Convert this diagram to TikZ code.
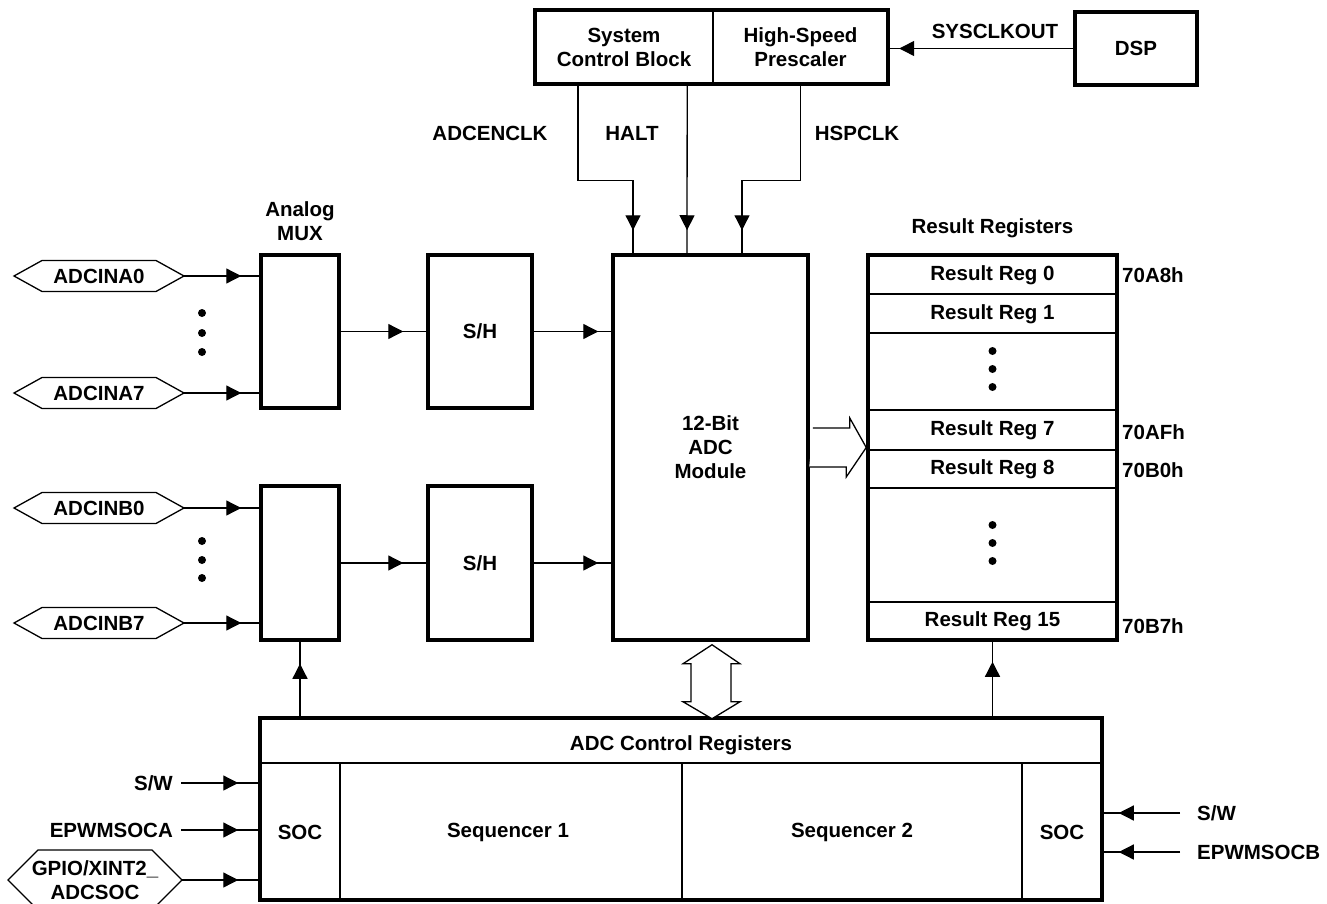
\documentclass[tikz,border=0pt]{standalone}
\usepackage{fontspec}
\setmainfont{Liberation Sans}
\usetikzlibrary{arrows.meta,decorations.markings}
\newcommand{\hexbox}[7]{% name, cx, cy, halfw, halfh, slant, text
  \node[align=center] (#1) at (#2,#3) {#7};
  \draw[ln] (#1.center) ++(-#4,0) -- ++(#6,-#5) -- ++(2*#4-2*#6,0) -- ++(#6,#5) -- ++(-#6,#5) -- ++(-2*#4+2*#6,0) -- cycle;
  \path (#1.center) ++(#4,0) coordinate (#1-r);
}
\begin{document}
\begin{tikzpicture}[x=1pt,y=-1pt,
  every node/.style={font=\fontsize{20.5}{24}\selectfont\bfseries, inner sep=0pt},
  blk/.style={draw, line width=3.5pt, rectangle, align=center},
  ln/.style={line width=1.3pt},
  sep/.style={line width=1.6pt},
  marr/.style={ln, postaction={decorate}, decoration={markings, mark=at position #1 with {\arrow{Triangle[length=15pt,width=15pt]}}}},
  hollow/.style={ln, fill=white, line join=miter}
]
\useasboundingbox (0,0) rectangle (1327,904);

% top blocks
\node[align=center, minimum width=178pt, minimum height=74pt] (scb) at (624,47) {System\\Control Block};
\node[align=center, minimum width=175pt, minimum height=74pt] (hsp) at (800.5,47) {High-Speed\\Prescaler};
\draw[line width=3.5pt] (scb.north west) rectangle (hsp.south east);
\draw[line width=2.2pt] (scb.north east) -- (scb.south east);
\node[blk, minimum width=122pt, minimum height=73pt] (dsp) at (1136,48.5) {DSP};
\draw[marr=-11pt] (dsp.west) -- (dsp.west -| hsp.east);
\node (sysclk) at (995,31) {SYSCLKOUT};

% main blocks
\node[blk, minimum width=195pt, minimum height=385pt] (adc) at (710.5,447.5) {12-Bit\\ADC\\Module};
\node[blk, minimum width=249pt, minimum height=385pt] (res) at (992.5,447.5) {};
\node (resl) at (992.5,228) {Result Registers};
\node[blk, minimum width=78pt, minimum height=153pt] (muxa) at (300,331.5) {};
\node[blk, minimum width=78pt, minimum height=154pt] (muxb) at (300,563) {};
\node[align=center] (muxl) at (300,221) {Analog\\MUX};
\node[blk, minimum width=104pt, minimum height=153pt] (sha) at (480,331.5) {S/H};
\node[blk, minimum width=104pt, minimum height=154pt] (shb) at (480,563) {S/H};
\node[blk, minimum width=842pt, minimum height=182pt] (ctrl) at (681,809) {};

% clock connectors
\draw[marr=-23pt] ([xshift=-46pt]scb.south) -- ++(0,96) -| ([xshift=-77.5pt]adc.north);
\draw[marr=-23pt] ([xshift=-26pt]scb.south east) -- ([xshift=-23.5pt]adc.north);
\draw[marr=-23pt] (hsp.south) -- ++(0,96) -| ([xshift=31.5pt]adc.north);
\node (adcenclk) at (490,133) {ADCENCLK};
\node (halt) at (632,133) {HALT};
\node (hspclk) at (857,133) {HSPCLK};

% analog inputs
\hexbox{ina0}{99}{276}{85}{15.5}{28}{ADCINA0}
\hexbox{ina7}{99}{393}{85}{15.5}{28}{ADCINA7}
\hexbox{inb0}{99}{508}{85}{15.5}{28}{ADCINB0}
\hexbox{inb7}{99}{623}{85}{15.5}{28}{ADCINB7}
\draw[marr=-18pt] (ina0-r) -- (ina0-r -| muxa.west);
\draw[marr=-18pt] (ina7-r) -- (ina7-r -| muxa.west);
\draw[marr=-18pt] (inb0-r) -- (inb0-r -| muxb.west);
\draw[marr=-18pt] (inb7-r) -- (inb7-r -| muxb.west);
\foreach \yy in {313,333,352,541,560,578} \fill (202,\yy) circle (4);

\draw[marr=-23pt] (muxa.east) -- (sha.west);
\draw[marr=-23pt] (muxb.east) -- (shb.west);
\draw[marr=-13pt] (sha.east) -- (sha.east -| adc.west);
\draw[marr=-13pt] (shb.east) -- (shb.east -| adc.west);

% result registers
\foreach \yy in {294,333,410,450,488,602} \draw[sep] (res.west |- 0,\yy) -- (res.east |- 0,\yy);
\node (r0) at (992.5,275) {Result Reg 0};
\node (r1) at (992.5,314) {Result Reg 1};
\node (r7) at (992.5,430) {Result Reg 7};
\node (r8) at (992.5,469) {Result Reg 8};
\node (r15) at (992.5,621) {Result Reg 15};
\foreach \yy in {351,369,387,525,543,561} \fill (992.5,\yy) circle (4);
\node[anchor=west] (a0) at (1122,275) {70A8h};
\node[anchor=west] (a7) at (1122,432) {70AFh};
\node[anchor=west] (a8) at (1122,470) {70B0h};
\node[anchor=west] (a15) at (1122,626) {70B7h};

% hollow arrows
\draw[hollow] (adc.east) ++(3,-19.5) -- ++(37,0) -- ++(0,-10) -- (res.west) -- ++(-20,29.5) -- ++(0,-10) -- ++(-37,0);
\draw[hollow] (adc.south) ++(1.5,3) -- ++(28,19) -- ++(-9,0) -- ++(0,38) -- ++(9,0) -- ++(-28,17) -- ++(-29,-17) -- ++(8,0) -- ++(0,-38) -- ++(-8,0) -- cycle;

% control registers
\draw[sep] (ctrl.west |- 0,763) -- (ctrl.east |- 0,763);
\foreach \xx in {340,682,1022} \draw[sep] (\xx,763) -- (\xx,0 |- ctrl.south);
\node (ctrlt) at (681,745) {ADC Control Registers};
\node (soc1) at (300,832) {SOC};
\node (seq1) at (508,832) {Sequencer 1};
\node (seq2) at (852,832) {Sequencer 2};
\node (soc2) at (1062,832) {SOC};

\draw[marr=-22pt] (ctrl.north -| muxb.south) -- (muxb.south);
\draw[marr=-20pt] (ctrl.north -| res.south) -- (res.south);

% SOC inputs
\node[anchor=east] (swa) at (173,783) {S/W};
\node[anchor=east] (epa) at (173,830) {EPWMSOCA};
\hexbox{gpio}{95}{880}{87}{30}{30}{GPIO/XINT2\_\\ADCSOC}
\draw[marr=-20pt] ([xshift=8pt]swa.east) -- (swa.east -| ctrl.west);
\draw[marr=-20pt] ([xshift=8pt]epa.east) -- (epa.east -| ctrl.west);
\draw[marr=-20pt] (gpio-r) -- (gpio-r -| ctrl.west);
\node[anchor=west] (swb) at (1197,813) {S/W};
\node[anchor=west] (epb) at (1197,852) {EPWMSOCB};
\draw[marr=-15pt] ([xshift=-17pt]swb.west) -- (swb.west -| ctrl.east);
\draw[marr=-15pt] ([xshift=-17pt]epb.west) -- (epb.west -| ctrl.east);
\end{tikzpicture}
\end{document}
